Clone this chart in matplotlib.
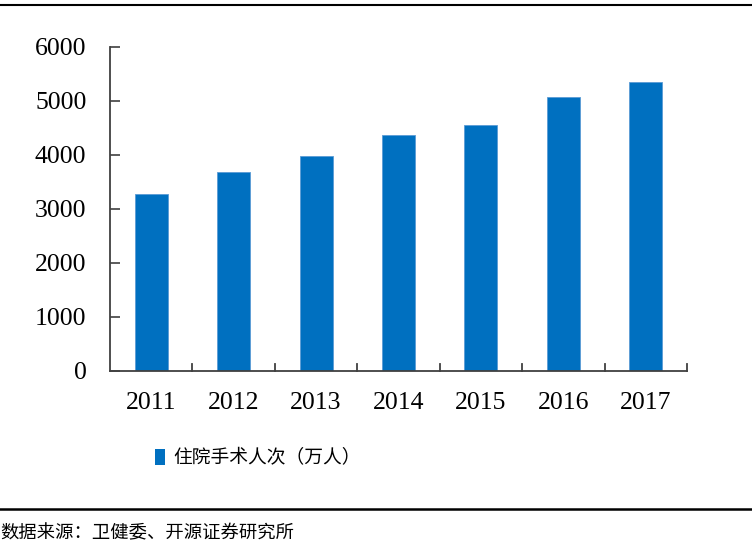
import matplotlib
matplotlib.use("Agg")
import matplotlib.pyplot as plt
from matplotlib.lines import Line2D
from matplotlib.patches import Patch

years = ["2011", "2012", "2013", "2014", "2015", "2016", "2017"]
surgeries = [3267, 3680, 3970, 4370, 4545, 5075, 5352]
series_name = "住院手术人次（万人）"
source_text = "数据来源：卫健委、开源证券研究所"
yticks = [0, 1000, 2000, 3000, 4000, 5000, 6000]

plt.rcParams['font.family'] = ['Liberation Serif', 'Noto Sans CJK SC', 'DejaVu Sans']

W, H = 752, 546
fig = plt.figure(figsize=(W/100, H/100), dpi=100)
ax = fig.add_axes([110/W, 1-370.7/H, (687-110)/W, (370.7-46.7)/H])

x = list(range(len(years)))
ax.bar(x, surgeries, width=0.4, color="#0070C0", edgecolor="#5B9BD5", linewidth=0.6, zorder=2)
ax.set_xlim(-0.5, len(years)-0.5)
ax.set_ylim(0, 6000)
ax.set_yticks(yticks)
ax.set_yticklabels([str(v) for v in yticks], fontsize=18.5, family='Liberation Serif')
ax.set_xticks(x)
ax.set_xticklabels(years, fontsize=18.5, family='Liberation Serif')
ax.tick_params(axis='y', direction='in', length=7, width=1.2, color='#404040', pad=17)
ax.tick_params(axis='x', length=0, pad=15)
# boundary ticks on x axis
for b in [i + 0.5 for i in range(len(years))]:
    ax.plot([b, b], [0, 130], color='#404040', lw=1.3, clip_on=False, zorder=3)
for s in ['top', 'right']:
    ax.spines[s].set_visible(False)
for s in ['left', 'bottom']:
    ax.spines[s].set_color('#404040')
    ax.spines[s].set_linewidth(1.3)

handle = Patch(facecolor="#0070C0", edgecolor="none")
fig.legend([handle], [series_name], loc='center', bbox_to_anchor=(258/W, 1-458/H),
           frameon=False, handlelength=0.55, handleheight=0.9,
           handletextpad=0.45, prop={'family': ['Noto Sans CJK SC'], 'size': 13.5})

fig.add_artist(Line2D([0, 1], [1-5/H, 1-5/H], color='black', lw=1.5, transform=fig.transFigure))
fig.add_artist(Line2D([0, 1], [1-509/H, 1-509/H], color='black', lw=1.8, transform=fig.transFigure))
fig.text(0/W, 1-533/H, source_text, fontsize=13.2, va='center', ha='left',
         family=['Noto Sans CJK SC'])

fig.savefig("out.png", dpi=100)
